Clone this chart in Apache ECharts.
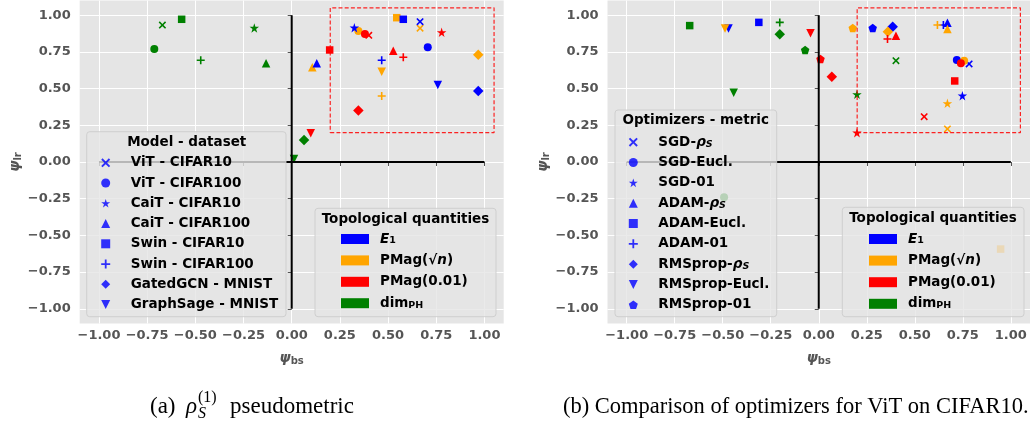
<!DOCTYPE html>
<html>
<head>
<meta charset="utf-8">
<script src="https://cdn.jsdelivr.net/npm/echarts@6/dist/echarts.min.js"></script>
<style>
  html, body { margin: 0; padding: 0; background: #fff; }
  #chart { width: 1030px; height: 424px; }
</style>
</head>
<body>
<div id="chart"></div>
<script>
// Tick positions shared by both panels (both axes)
const tickValues = [-1, -0.75, -0.5, -0.25, 0, 0.25, 0.5, 0.75, 1];

// Topological quantities (one colour each)
const quantityNames = ['E_1', 'PMag(√n)', 'PMag(0.01)', 'dim_PH'];
const quantityColors = ['#0000ff', '#ffa500', '#ff0000', '#008000'];

// Panel (a): model - dataset, points are [psi_bs, psi_lr]
const modelNames = ['ViT - CIFAR10', 'ViT - CIFAR100', 'CaiT - CIFAR10', 'CaiT - CIFAR100',
                    'Swin - CIFAR10', 'Swin - CIFAR100', 'GatedGCN - MNIST', 'GraphSage - MNIST'];
const modelMarkers = ['x', 'circle', 'star', 'tri', 'square', 'plus', 'diamond', 'triDown'];
const modelE1       = [[0.666, 0.956], [0.706, 0.781], [0.325, 0.915], [0.130, 0.672], [0.579, 0.972], [0.467, 0.693], [0.968, 0.484], [0.758, 0.525]];
const modelPMagSqrt = [[0.666, 0.911], [0.346, 0.892], null,           [0.107, 0.645], [0.545, 0.983], [0.467, 0.450], [0.968, 0.731], [0.467, 0.615]];
const modelPMag001  = [[0.400, 0.863], [0.380, 0.872], [0.778, 0.883], [0.527, 0.758], [0.197, 0.763], [0.579, 0.713], [0.346, 0.350], [0.099, 0.195]];
const modelDimPH    = [[-0.671, 0.933], [-0.713, 0.770], [-0.194, 0.913], [-0.133, 0.672], [-0.571, 0.972], [-0.472, 0.693], [0.064, 0.150], [0.012, 0.020]];

// Panel (b): optimizer - metric for ViT on CIFAR10
const optimizerNames = ['SGD-ρ_S', 'SGD-Eucl.', 'SGD-01', 'ADAM-ρ_S', 'ADAM-Eucl.', 'ADAM-01',
                        'RMSprop-ρ_S', 'RMSprop-Eucl.', 'RMSprop-01'];
const optimizerMarkers = ['x', 'circle', 'star', 'tri', 'square', 'plus', 'diamond', 'triDown', 'pentagon'];
const optE1       = [[0.783, 0.668], [0.719, 0.695], [0.748, 0.452], [0.670, 0.949], [-0.312, 0.951], [0.649, 0.933], [0.385, 0.922], [-0.470, 0.910], [0.281, 0.913]];
const optPMagSqrt = [[0.670, 0.225], [0.757, 0.690], [0.670, 0.400], [0.670, 0.906], [0.947, -0.593], [0.618, 0.933], [0.360, 0.888], [-0.488, 0.910], [0.177, 0.913]];
const optPMag001  = [[0.549, 0.309], [0.740, 0.672], [0.199, 0.200], [0.402, 0.860], [0.708, 0.552], [0.358, 0.838], [0.068, 0.581], [-0.043, 0.877], [0.009, 0.702]];
const optDimPH    = [[0.402, 0.690], [-0.493, -0.240], [0.199, 0.461], null, [-0.672, 0.929], [-0.203, 0.951], [-0.203, 0.870], [-0.443, 0.472], [-0.071, 0.763]];

// Reference lines and highlighted region
const zeroLineH = [[-1, 0], [1, 0]];
const zeroLineV = [[0, -1], [0, 1]];
const focusBox = [[0.2, 0.2], [1.05, 0.2], [1.05, 1.05], [0.2, 1.05], [0.2, 0.2]];

// Marker shapes
const MARK = {
  x: 'path://M1.5,0 L5,3.5 L8.5,0 L10,1.5 L6.5,5 L10,8.5 L8.5,10 L5,6.5 L1.5,10 L0,8.5 L3.5,5 L0,1.5 Z',
  circle: 'circle',
  star: 'path://M5,0 L6.123,3.455 L9.755,3.455 L6.817,5.59 L7.939,9.045 L5,6.91 L2.061,9.045 L3.183,5.59 L0.245,3.455 L3.877,3.455 Z',
  tri: 'triangle',
  square: 'rect',
  plus: 'path://M4,0 L6,0 L6,4 L10,4 L10,6 L6,6 L6,10 L4,10 L4,6 L0,6 L0,4 L4,4 Z',
  diamond: 'diamond',
  triDown: 'path://M0,0 L10,0 L5,10 Z',
  pentagon: 'path://M5,0 L9.755,3.455 L7.939,9.045 L2.061,9.045 L0.245,3.455 Z'
};
const SIZE = { x: 7.5, circle: 8, star: 9.5, tri: 8.5, square: 7.5, plus: 8, diamond: 10.5, triDown: 8.5, pentagon: 8.5 };

const FONT = 'DejaVu Sans';
const SERIF = 'Liberation Serif';

function tickFormat(v) {
  return (v < 0 ? '\u2212' : '') + Math.abs(v).toFixed(2);
}

const axisNameRich = {
  psi: { fontFamily: FONT, fontWeight: 'bold', fontStyle: 'italic', fontSize: 14, lineHeight: 17, color: '#555' },
  sub: { fontFamily: FONT, fontWeight: 'bold', fontSize: 10, lineHeight: 9, verticalAlign: 'bottom', color: '#555' }
};

function xAxisFor(gridIndex) {
  return {
    type: 'value', gridIndex, min: -1.1, max: 1.1, minInterval: 0.25, maxInterval: 0.25,
    axisLine: { show: false },
    axisTick: { show: true, length: 4, lineStyle: { color: '#555', width: 1 }, customValues: tickValues },
    axisLabel: { customValues: tickValues, formatter: tickFormat, color: '#555', fontFamily: FONT,
                 fontWeight: 'bold', fontSize: 13, margin: 6 },
    splitLine: { show: true, lineStyle: { color: '#ffffff', width: 1 } },
    name: '{psi|ψ}{sub|bs}', nameLocation: 'middle', nameGap: 26,
    nameTextStyle: { rich: axisNameRich }
  };
}
function yAxisFor(gridIndex) {
  return {
    type: 'value', gridIndex, min: -1.1, max: 1.1, minInterval: 0.25, maxInterval: 0.25,
    axisLine: { show: false },
    axisTick: { show: true, length: 4, lineStyle: { color: '#555', width: 1 }, customValues: tickValues },
    axisLabel: { customValues: tickValues, formatter: tickFormat, color: '#555', fontFamily: FONT,
                 fontWeight: 'bold', fontSize: 13, margin: 9 },
    splitLine: { show: true, lineStyle: { color: '#ffffff', width: 1 } },
    name: '{psi|ψ}{sub|lr}', nameLocation: 'middle', nameGap: 56, nameRotate: 90,
    nameTextStyle: { rich: axisNameRich }
  };
}

function pointSeries(name, color, points, markers, idx) {
  return {
    type: 'scatter', name, xAxisIndex: idx, yAxisIndex: idx,
    itemStyle: { color, opacity: 1 },
    emphasis: { disabled: true },
    silent: true,
    data: points.map((p, i) => p && { value: p, symbol: MARK[markers[i]], symbolSize: SIZE[markers[i]] })
                .filter(Boolean)
  };
}
function keySeries(name, idx) {
  return { type: 'scatter', name, xAxisIndex: idx, yAxisIndex: idx, itemStyle: { color: '#0000ff' }, data: [] };
}
function guideSeries(points, idx, lineStyle) {
  return { type: 'line', xAxisIndex: idx, yAxisIndex: idx, data: points, symbol: 'none',
           silent: true, lineStyle, emphasis: { disabled: true } };
}

const legendRich = {
  p: { width: 15.5, lineHeight: 14 },
  q: { width: 6, lineHeight: 14 },
  it: { fontFamily: FONT, fontWeight: 'bold', fontStyle: 'italic', fontSize: 13.5, lineHeight: 14, color: '#000' },
  sub: { fontFamily: FONT, fontWeight: 'bold', fontSize: 9.5, lineHeight: 8, verticalAlign: 'bottom', color: '#000' },
  subi: { fontFamily: FONT, fontWeight: 'bold', fontStyle: 'italic', fontSize: 9.5, lineHeight: 8, verticalAlign: 'bottom', color: '#000' }
};
function richLabel(name) {
  return name.replace('ρ_S', '{it|ρ}{subi|S}')
             .replace('E_1', '{it|E}{sub|1}')
             .replace('dim_PH', 'dim{sub|PH}')
             .replace('√n', '√{it|n}');
}
const legendText = { fontFamily: FONT, fontWeight: 'bold', fontSize: 13.5, lineHeight: 14, color: '#000', rich: legendRich };

function legendBox(x, y, w, h, title, cx, cy) {
  return [
    { type: 'rect', z: 10, shape: { x, y, width: w, height: h, r: 3 },
      style: { fill: 'rgba(229,229,229,0.8)', stroke: 'rgba(204,204,204,0.9)', lineWidth: 1 } },
    { type: 'text', z: 11, x: cx, y: cy,
      style: { text: title, fontFamily: FONT, fontWeight: 'bold', fontSize: 13.5, fill: '#000',
               align: 'center', verticalAlign: 'middle' } }
  ];
}

const quantityPoints = [[modelE1, modelPMagSqrt, modelPMag001, modelDimPH],
                        [optE1, optPMagSqrt, optPMag001, optDimPH]];

const series = [];
[0, 1].forEach(idx => {
  series.push(guideSeries(zeroLineH, idx, { color: '#000', width: 2 }));
  series.push(guideSeries(zeroLineV, idx, { color: '#000', width: 2 }));
  series.push(guideSeries(focusBox, idx, { color: 'rgba(255,0,0,0.85)', width: 1.2, type: [4, 2.2] }));
});
// drawing order per panel
[[1, 2, 0, 3], [0, 1, 2, 3]].forEach((order, idx) => {
  const markers = idx === 0 ? modelMarkers : optimizerMarkers;
  order.forEach(q => series.push(pointSeries(quantityNames[q], quantityColors[q], quantityPoints[idx][q], markers, idx)));
});
modelNames.forEach(n => series.push(keySeries(n, 0)));
optimizerNames.forEach(n => series.push(keySeries(n, 1)));

const chart = echarts.init(document.getElementById('chart'), null, { renderer: 'canvas' });
chart.setOption({
  animation: false,
  backgroundColor: '#ffffff',
  grid: [
    { left: 79.7, top: 0.5, width: 424, height: 323, show: true, backgroundColor: '#e5e5e5', borderWidth: 0 },
    { left: 607.5, top: 0.5, width: 423.5, height: 323, show: true, backgroundColor: '#e5e5e5', borderWidth: 0 }
  ],
  xAxis: [xAxisFor(0), xAxisFor(1)],
  yAxis: [yAxisFor(0), yAxisFor(1)],
  legend: [
    { data: modelNames.map((n, i) => ({ name: n, icon: MARK[modelMarkers[i]] })),
      orient: 'vertical', left: 101.2, top: 155.8, itemWidth: 9, itemHeight: 9, itemGap: 6.25,
      padding: 0, selectedMode: false, z: 20, textStyle: legendText, itemStyle: { color: '#0000ff' },
      formatter: n => '{p| }' + richLabel(n) },
    { data: optimizerNames.map((n, i) => ({ name: n, icon: MARK[optimizerMarkers[i]] })),
      orient: 'vertical', left: 628.8, top: 135.2, itemWidth: 9, itemHeight: 9, itemGap: 6.33,
      padding: 0, selectedMode: false, z: 20, textStyle: legendText, itemStyle: { color: '#0000ff' },
      formatter: n => '{p| }' + richLabel(n) },
    { data: quantityNames.map(n => ({ name: n, icon: 'rect' })),
      orient: 'vertical', left: 341, top: 232, itemWidth: 28, itemHeight: 10, itemGap: 7.4,
      padding: 0, selectedMode: false, z: 20, textStyle: legendText,
      formatter: n => '{q| }' + richLabel(n) },
    { data: quantityNames.map(n => ({ name: n, icon: 'rect' })),
      orient: 'vertical', left: 869, top: 232, itemWidth: 28, itemHeight: 10, itemGap: 7.6,
      padding: 0, selectedMode: false, z: 20, textStyle: legendText,
      formatter: n => '{q| }' + richLabel(n) }
  ],
  graphic: [
    ...legendBox(86.7, 131.7, 199.3, 185, 'Model - dataset', 186.7, 142),
    ...legendBox(615, 110, 161.7, 206.7, 'Optimizers - metric', 695.7, 120.7),
    ...legendBox(315, 208.3, 181, 108.4, 'Topological quantities', 405.5, 219),
    ...legendBox(842.3, 207.3, 181.7, 109.4, 'Topological quantities', 933, 218.3),
    // sub-figure captions
    { type: 'text', x: 150, y: 407, style: { text: '(a)', fontFamily: SERIF, fontSize: 23, fill: '#000', verticalAlign: 'middle' } },
    { type: 'text', x: 186, y: 407, style: { text: 'ρ', fontFamily: SERIF, fontStyle: 'italic', fontSize: 23, fill: '#000', verticalAlign: 'middle' } },
    { type: 'text', x: 198, y: 398, style: { text: '(1)', fontFamily: SERIF, fontSize: 16, fill: '#000', verticalAlign: 'middle' } },
    { type: 'text', x: 198, y: 414, style: { text: 'S', fontFamily: SERIF, fontStyle: 'italic', fontSize: 16, fill: '#000', verticalAlign: 'middle' } },
    { type: 'text', x: 230, y: 407, style: { text: 'pseudometric', fontFamily: SERIF, fontSize: 23, fill: '#000', verticalAlign: 'middle' } },
    { type: 'text', x: 563, y: 407, style: { text: '(b) Comparison of optimizers for ViT on CIFAR10.', fontFamily: SERIF, fontSize: 22.5, fill: '#000', verticalAlign: 'middle' } }
  ],
  series
});
</script>
</body>
</html>
